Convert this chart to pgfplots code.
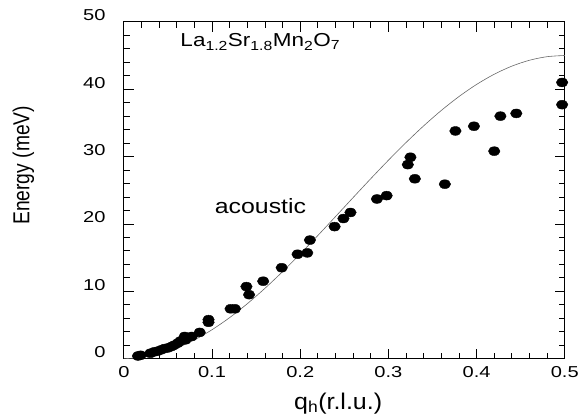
\documentclass[border=0pt]{standalone}
\usepackage{fontspec}
\setmainfont{Liberation Sans}[FakeStretch=1.2]
\newfontfamily\tickfont{Liberation Sans}[FakeStretch=1.27]
\newfontfamily\xlabfont{Liberation Sans}[FakeStretch=1.1]
\newfontfamily\ylabfont{Liberation Sans}
\usepackage{pgfplots}
\pgfplotsset{compat=1.18}

\begin{document}
\begin{tikzpicture}
\begin{axis}[
  scale only axis,
  width=445bp, height=340bp,
  xmin=0, xmax=0.5, ymin=0, ymax=50,
  xtick={0,0.1,...,0.5}, ytick={0,10,...,50},
  minor x tick num=4, minor y tick num=4,
  xticklabels={0,0.1,0.2,0.3,0.4,0.5},
  tick align=inside, tick pos=both,
  major tick length=10bp, minor tick length=6bp,
  axis line style={line width=1pt},
  every tick/.style={black, line width=0.8pt},
  /pgf/number format/assume math mode=true,
  tick label style={font=\tickfont\fontsize{16}{19}\selectfont},
  yticklabel style={yshift=6.5bp, xshift=-15bp},
  xticklabel style={yshift=-4bp},
  xlabel={\xlabfont\fontsize{23}{27}\selectfont q\textsubscript{h}(r.l.u.)},
  ylabel={\ylabfont\fontsize{19.5}{23}\selectfont\scalebox{1}[1.2]{Energy (meV)}},
  xlabel style={at={(axis description cs:0.486,-0.15)}, anchor=base},
  ylabel style={at={(axis description cs:-0.228,0.574)}, anchor=center},
  clip=false,
]
% model dispersion curve
\addplot[gray!80!black, line width=0.6pt, smooth] coordinates {
(0.00,0.000) (0.02,0.177) (0.04,0.707) (0.06,1.580) (0.08,2.783)
(0.10,4.297) (0.12,6.098) (0.14,8.158) (0.16,10.444) (0.18,12.920)
(0.20,15.547) (0.22,18.284) (0.24,21.087) (0.26,23.913) (0.28,26.716)
(0.30,29.453) (0.32,32.080) (0.34,34.556) (0.36,36.842) (0.38,38.902)
(0.40,40.703) (0.42,42.217) (0.44,43.420) (0.46,44.293) (0.48,44.823)
(0.50,45.000)
};
% measured points
\addplot[only marks, mark=*, mark size=4.5bp, black,
  mark options={xscale=1.3, fill=black}] coordinates {
(0.016,0.4) (0.019,0.5) (0.030,0.8) (0.034,1.0) (0.038,1.1)
(0.042,1.3) (0.046,1.5) (0.050,1.6) (0.054,1.8) (0.057,2.0)
(0.061,2.3) (0.064,2.6) (0.069,3.3) (0.070,2.8) (0.077,3.3)
(0.086,3.9) (0.096,5.4) (0.096,5.8) (0.121,7.4) (0.126,7.4)
(0.139,10.7) (0.142,9.5) (0.158,11.5) (0.179,13.5) (0.197,15.5)
(0.208,15.7) (0.211,17.6) (0.239,19.6) (0.249,20.8) (0.257,21.7)
(0.287,23.7) (0.298,24.2) (0.322,28.8) (0.325,29.9) (0.330,26.7)
(0.364,25.9) (0.376,33.8) (0.397,34.5) (0.420,30.8) (0.427,36.0)
(0.445,36.4) (0.497,41.0) (0.497,37.7)
};
\node[anchor=base west, font=\fontsize{19}{22}\selectfont, inner sep=0pt]
  at (axis cs:0.064,46.3) {La\textsubscript{1.2}Sr\textsubscript{1.8}Mn\textsubscript{2}O\textsubscript{7}};
\node[anchor=base west, font=\fontsize{21}{25}\selectfont, inner sep=0pt]
  at (axis cs:0.103,21.5) {acoustic};
% page size matching the reference
\path (rel axis cs:-0.2809,-0.1765) rectangle (rel axis cs:1.0270,1.0647);
\end{axis}
\end{tikzpicture}
\end{document}
